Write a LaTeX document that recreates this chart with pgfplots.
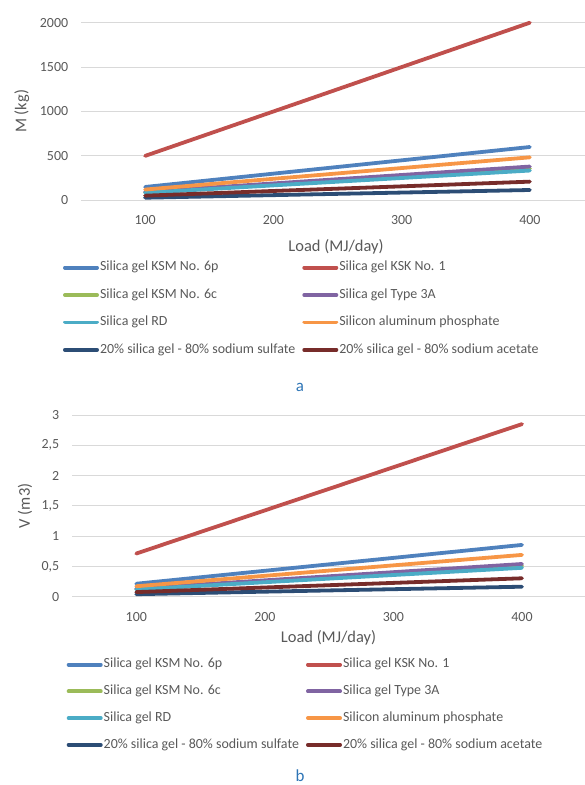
\documentclass[border=0pt]{standalone}
\usepackage{pgfplots}
\pgfplotsset{compat=1.18}
\usepackage{fontspec}
\setmainfont{Carlito}
\definecolor{cBlue}{HTML}{4F81BD}
\definecolor{cRed}{HTML}{C0504D}
\definecolor{cGreen}{HTML}{9BBB59}
\definecolor{cPurple}{HTML}{8064A2}
\definecolor{cTeal}{HTML}{4BACC6}
\definecolor{cOrange}{HTML}{F79646}
\definecolor{cNavy}{HTML}{2C4D75}
\definecolor{cDarkRed}{HTML}{772C2A}
\definecolor{txtgray}{HTML}{595959}
\definecolor{gridgray}{HTML}{D9D9D9}
\definecolor{labelblue}{HTML}{2E75B6}
\begin{document}
\begin{tikzpicture}
\path[use as bounding box] (0bp,0bp) rectangle (585bp,785bp);
\pgfplotsset{
  common/.style={
    scale only axis, clip=false,
    axis line style={draw=none},
    major tick length=0pt,
    ymajorgrids, grid style={draw=gridgray, line width=0.9bp},
    xtick={100,200,300,400},
    /pgf/number format/assume math mode=true,
    /pgf/number format/1000 sep={},
    every tick label/.append style={font=\fontsize{14}{16}\selectfont, text=txtgray},
    yticklabel style={xshift=-9.3bp},
    xticklabel style={anchor=base, yshift=-24.5bp},
    label style={font=\fontsize{16.5}{19}\selectfont, text=txtgray},
    legend columns=2,
    legend cell align=left,
    legend style={draw=none, fill=none, inner sep=0pt, outer sep=0pt, font=\fontsize{14}{16}\selectfont, text=txtgray,
      nodes={inner sep=0pt, text height=10bp, text depth=3.5bp},
      /tikz/every odd column/.append style={column sep=1bp},
      /tikz/every even column/.append style={column sep=7bp}},
    legend image code/.code={\draw[#1, line cap=round] (1.9bp,0bp) -- (34.1bp,0bp);},
    every axis plot/.append style={line width=3.8bp, line cap=round, line join=round},
  }
}
\begin{axis}[common, at={(81bp,584.7bp)}, anchor=south west, width=504bp, height=177.6bp,
  xmin=50, xmax=443, ymin=0, ymax=2000, ytick={0,500,1000,1500,2000},
  xlabel={Load (MJ/day)}, ylabel={M (kg)},
  xlabel style={at={(axis description cs:0.506,-0.263)}, anchor=center},
  ylabel style={at={(axis description cs:-0.1177,0.5)}, anchor=center},
  legend style={at={(axis description cs:-0.0357,-0.341)}, anchor=north west, row sep=13.9bp}]
\addplot[cBlue] coordinates {(100,150) (200,300) (300,450) (400,600)};
\addlegendentry{Silica gel KSM No. 6p}
\addplot[cRed] coordinates {(100,500) (200,1000) (300,1500) (400,2000)};
\addlegendentry{Silica gel KSK No. 1}
\addplot[cGreen] coordinates {(100,89) (200,179) (300,268) (400,357)};
\addlegendentry{Silica gel KSM No. 6c}
\addplot[cPurple] coordinates {(100,95) (200,190) (300,285) (400,380)};
\addlegendentry{Silica gel Type 3A}
\addplot[cTeal] coordinates {(100,84) (200,168) (300,251) (400,335)};
\addlegendentry{Silica gel RD}
\addplot[cOrange] coordinates {(100,121) (200,242) (300,363) (400,484)};
\addlegendentry{Silicon aluminum phosphate}
\addplot[cNavy] coordinates {(100,29) (200,58) (300,87) (400,116)};
\addlegendentry{20\% silica gel - 80\% sodium sulfate}
\addplot[cDarkRed] coordinates {(100,52) (200,105) (300,157) (400,210)};
\addlegendentry{20\% silica gel - 80\% sodium acetate}
\end{axis}
\begin{axis}[common, at={(72bp,188.3bp)}, anchor=south west, width=513bp, height=181.7bp,
  xmin=50, xmax=449, ymin=0, ymax=3, ytick={0,0.5,1,1.5,2,2.5,3},
  /pgf/number format/fixed, /pgf/number format/use comma,
  xlabel={Load (MJ/day)}, ylabel={V (m3)},
  xlabel style={at={(axis description cs:0.5,-0.227)}, anchor=center},
  ylabel style={at={(axis description cs:-0.0916,0.5)}, anchor=center},
  legend style={at={(axis description cs:-0.0103,-0.337)}, anchor=north west, row sep=13.2bp}]
\addplot[cBlue] coordinates {(100,0.214) (200,0.428) (300,0.641) (400,0.855)};
\addlegendentry{Silica gel KSM No. 6p}
\addplot[cRed] coordinates {(100,0.7125) (200,1.425) (300,2.1375) (400,2.85)};
\addlegendentry{Silica gel KSK No. 1}
\addplot[cGreen] coordinates {(100,0.127) (200,0.254) (300,0.381) (400,0.508)};
\addlegendentry{Silica gel KSM No. 6c}
\addplot[cPurple] coordinates {(100,0.135) (200,0.27) (300,0.405) (400,0.54)};
\addlegendentry{Silica gel Type 3A}
\addplot[cTeal] coordinates {(100,0.119) (200,0.239) (300,0.358) (400,0.477)};
\addlegendentry{Silica gel RD}
\addplot[cOrange] coordinates {(100,0.1725) (200,0.345) (300,0.5175) (400,0.69)};
\addlegendentry{Silicon aluminum phosphate}
\addplot[cNavy] coordinates {(100,0.041) (200,0.083) (300,0.124) (400,0.165)};
\addlegendentry{20\% silica gel - 80\% sodium sulfate}
\addplot[cDarkRed] coordinates {(100,0.076) (200,0.152) (300,0.228) (400,0.304)};
\addlegendentry{20\% silica gel - 80\% sodium acetate}
\end{axis}
\node[font=\fontsize{17}{20}\selectfont, text=labelblue, inner sep=0pt] at (300bp,398bp) {a};
\node[font=\fontsize{17}{20}\selectfont, text=labelblue, inner sep=0pt] at (300bp,9.5bp) {b};
\end{tikzpicture}
\end{document}
